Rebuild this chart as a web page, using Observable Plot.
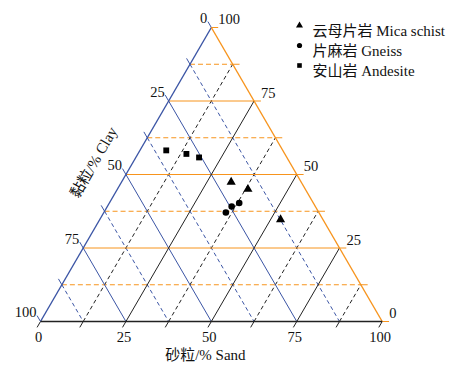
<!DOCTYPE html>
<html><head><meta charset="utf-8">
<script src="https://cdn.jsdelivr.net/npm/d3@7"></script>
<script src="https://cdn.jsdelivr.net/npm/@observablehq/plot@0.6"></script>
<style>
body{margin:0;background:#fff}
svg text{font-family:"Liberation Serif","DejaVu Serif","Noto Sans CJK SC",serif !important;}
</style>
</head><body><div id="chart"></div>
<script>
// ---- data (percent) ----
const groups = ["云母片岩 Mica schist", "片麻岩 Gneiss", "安山岩 Andesite"];
const groupSymbols = ["triangle", "circle", "square"];
// 云母片岩 Mica schist
const micaSand = [32.1, 38.2, 52.9];
const micaClay = [20.5, 16.8, 12.4];
const micaSilt = [47.4, 45.0, 34.7];
// 片麻岩 Gneiss
const gneissSand = [35.7, 36.4, 38.0];
const gneissClay = [27.2, 24.5, 21.7];
const gneissSilt = [37.1, 39.1, 40.3];
// 安山岩 Andesite
const andesiteSand = [7.7, 14.2, 18.5];
const andesiteClay = [34.1, 28.8, 25.7];
const andesiteSilt = [58.2, 57.0, 55.8];

const tickLabels = [0, 25, 50, 75, 100];
const majorLevels = [25, 50, 75];
const minorLevels = [12.5, 37.5, 62.5, 87.5];
const allLevels = [0, 12.5, 25, 37.5, 50, 62.5, 75, 87.5, 100];
const sandTitle = "砂粒/% Sand";
const clayTitle = "黏粒/% Clay";

// ---- ternary -> cartesian ----
const X = (s, c, t) => s / 100 + t / 200;
const Y = (s, c, t) => t / 100;
const seg = (a, b) => ({x1: X(...a), y1: Y(...a), x2: X(...b), y2: Y(...b)});
const pts = (S, C, T) => S.map((s, i) => ({x: X(s, C[i], T[i]), y: Y(s, C[i], T[i])}));

const ORANGE = "#f7941d", BLUE = "#3b55a5", BLACK = "#222";
const TK = 2; // tick length in percent units
const FONT = "Liberation Serif, DejaVu Serif, Noto Sans CJK SC, serif";

const siltLine = t => seg([0, 100 - t, t], [100 - t, 0, t]);
const clayLine = c => seg([0, c, 100 - c], [100 - c, c, 0]);
const sandLine = s => seg([s, 100 - s, 0], [s, 0, 100 - s]);
const siltTick = t => seg([100 - t, 0, t], [100 - t + TK, -TK, t]);
const clayTick = c => seg([0, c, 100 - c], [-TK, c, 100 - c + TK]);
const sandTick = s => seg([s, 100 - s, 0], [s, 100 - s + TK, -TK]);

const L = (data, stroke, opts = {}) => Plot.link(data, {x1: "x1", y1: "y1", x2: "x2", y2: "y2", stroke, strokeWidth: 1, ...opts});

const series = [
  pts(micaSand, micaClay, micaSilt),
  pts(gneissSand, gneissClay, gneissSilt),
  pts(andesiteSand, andesiteClay, andesiteSilt)
];
const markerR = [3.4, 3.3, 3.3];

const fs = 14.5;
const T = (data, opts) => Plot.text(data, {fontFamily: FONT, fill: "#111", fontSize: fs, ...opts});
const chart = Plot.plot({
  width: 455, height: 372,
  marginLeft: 40, marginRight: 73.3, marginTop: 27, marginBottom: 51,
  x: {domain: [0, 1], axis: null},
  y: {domain: [0, 1], axis: null},
  style: {fontFamily: FONT, fontSize: fs + "px", background: "white", color: "#111"},
  marks: [
    // dashed minor grid
    L(minorLevels.map(siltLine), ORANGE, {strokeDasharray: "5,3"}),
    L(minorLevels.map(clayLine), BLUE, {strokeDasharray: "4,3"}),
    L(minorLevels.map(sandLine), BLACK, {strokeDasharray: "4,3"}),
    // solid major grid
    L(majorLevels.map(siltLine), ORANGE),
    L(majorLevels.map(clayLine), BLUE),
    L(majorLevels.map(sandLine), BLACK),
    // ticks
    L(allLevels.map(siltTick), ORANGE),
    L(allLevels.map(clayTick), BLUE),
    L(allLevels.map(sandTick), BLACK),
    // edges
    L([seg([0, 100, 0], [0, 0, 100])], BLUE, {strokeWidth: 1.4}),
    L([seg([100, 0, 0], [0, 0, 100])], ORANGE, {strokeWidth: 1.4}),
    L([seg([0, 100, 0], [100, 0, 0])], BLACK, {strokeWidth: 1.4}),
    // tick labels
    T(tickLabels, {x: d => X(d, 100 - d, 0), y: d => Y(d, 100 - d, 0), text: d => String(d), dy: 16, dx: -2}),
    T(tickLabels, {x: d => X(0, d, 100 - d), y: d => Y(0, d, 100 - d), text: d => String(d), dx: -4, dy: -9, textAnchor: "end"}),
    T(tickLabels, {x: d => X(100 - d, 0, d), y: d => Y(100 - d, 0, d), text: d => String(d), dx: 7, dy: -8, textAnchor: "start"}),
    // axis titles
    T([sandTitle], {frameAnchor: "bottom", text: d => d, dy: 38, dx: -6, fontSize: 15}),
    T([clayTitle], {x: X(0, 50, 50), y: Y(0, 50, 50), text: d => d, rotate: -60, dx: -32, dy: -12, fontSize: 15}),
    // data points
    ...series.map((data, i) => Plot.dot(data, {x: "x", y: "y", symbol: groupSymbols[i], r: markerR[i], fill: "black", stroke: "none"})),
    // legend
    ...groups.map((g, i) => Plot.dot([g], {frameAnchor: "top-left", dx: 259, dy: -2 + i * 20, symbol: groupSymbols[i], r: 2.6, fill: "black"})),
    ...groups.map((g, i) => T([g], {frameAnchor: "top-left", dx: 272, dy: -2 + i * 20, text: d => d, textAnchor: "start", fontSize: 15}))
  ]
});
document.getElementById("chart").appendChild(chart);
</script>
</body></html>
